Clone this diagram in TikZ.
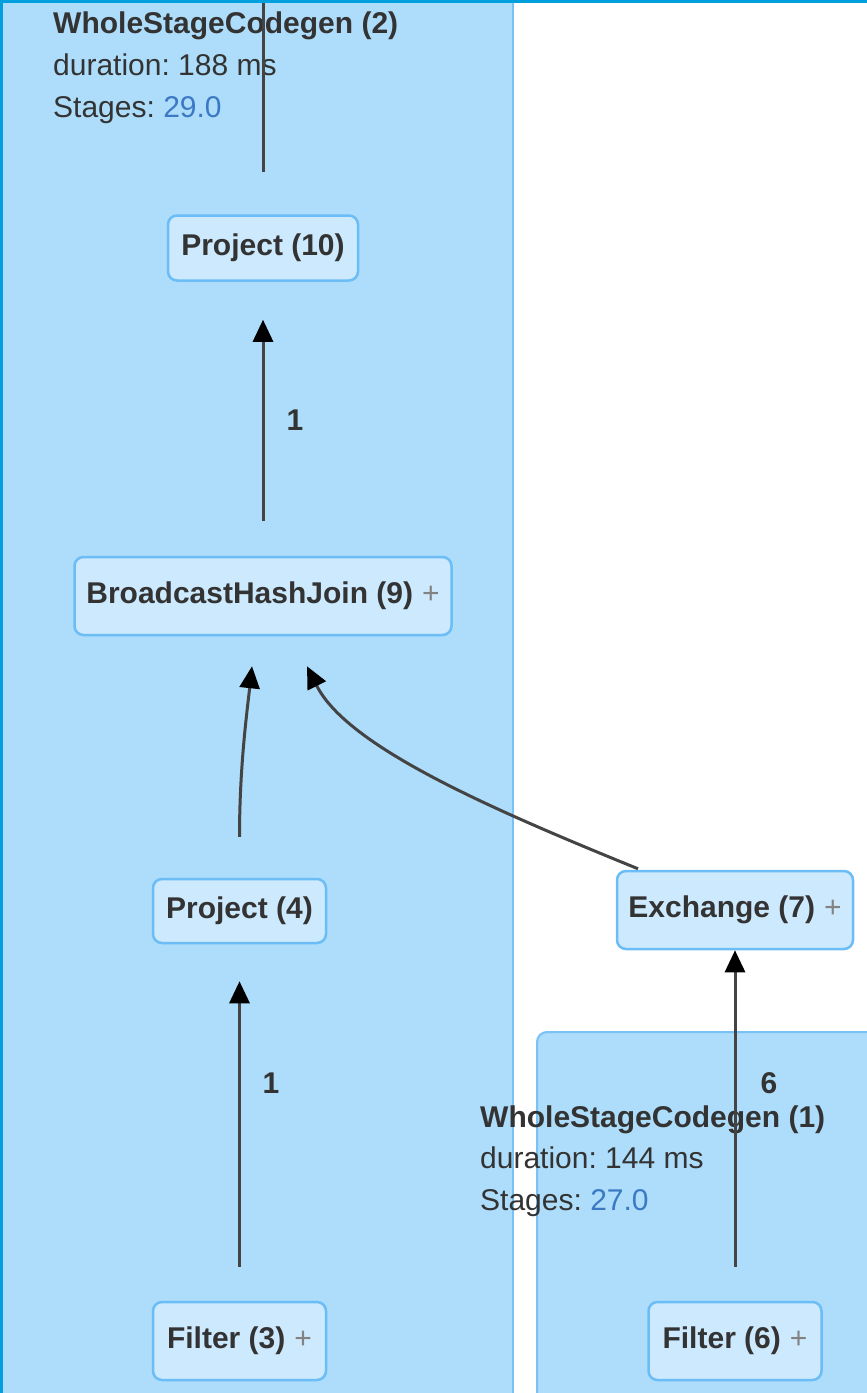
\documentclass[tikz,border=0pt]{standalone}
\usepackage{fontspec}
\setmainfont{Liberation Sans}
\usetikzlibrary{arrows.meta}

\definecolor{frameblue}{RGB}{0,160,222}
\definecolor{clusterfill}{RGB}{173,221,250}
\definecolor{clusteredge}{RGB}{120,194,245}
\definecolor{nodefill}{RGB}{204,233,253}
\definecolor{nodeedge}{RGB}{108,189,246}
\definecolor{ink}{RGB}{51,51,51}
\definecolor{plusgray}{RGB}{130,130,130}
\definecolor{stageblue}{RGB}{59,121,196}
\definecolor{edgegray}{RGB}{68,68,68}

% grey expand marker after an operator name
\newcommand\opplus{\hspace{9pt}{\color{plusgray}\mdseries+}}

\begin{document}
\frenchspacing
\begin{tikzpicture}[x=1pt,y=-1pt,
  opbox/.style={draw=nodeedge, line width=2.5pt, fill=nodefill, rounded corners=9pt,
    text=ink, font=\fontsize{30}{36}\selectfont\bfseries, inner sep=0pt},
  clusterbox/.style={draw=clusteredge, line width=2pt, fill=clusterfill},
  caption/.style={anchor=base west, inner sep=0pt, text=ink, font=\fontsize{30}{36}\selectfont},
  captiontitle/.style={caption, font=\fontsize{30}{36}\selectfont\bfseries},
  wire/.style={draw=edgegray, line width=3pt},
  edge/.style={wire, -{Triangle[length=22pt,width=20pt,color=black]}},
  count/.style={text=ink, font=\fontsize{30}{36}\selectfont\bfseries, inner sep=0pt}
]
\useasboundingbox (0,0) rectangle (867,1393);
\clip (0,0) rectangle (867,1393);

% codegen clusters
\path[clusterbox] (-10,-10) rectangle (513,1410);
\path[clusterbox, rounded corners=10pt] (537,1032) rectangle (890,1420);

% cluster captions
\node[captiontitle] (wsc2t) at (53,33) {WholeStageCodegen (2)};
\node[caption] (wsc2d) at (53,75) {duration: 188 ms};
\node[caption] (wsc2s) at (53,117) {Stages: \textcolor{stageblue}{29.0}};
\node[captiontitle] (wsc1t) at (480,1127) {WholeStageCodegen (1)};
\node[caption] (wsc1d) at (480,1168) {duration: 144 ms};
\node[caption] (wsc1s) at (480,1210) {Stages: \textcolor{stageblue}{27.0}};

% operators
\node[opbox, minimum width=190pt, minimum height=65pt] (p10) at (263,248) {Project (10)};
\node[opbox, minimum width=377pt, minimum height=78pt] (bhj) at (263,596) {BroadcastHashJoin (9)\opplus};
\node[opbox, minimum width=173pt, minimum height=64pt] (p4) at (239.5,911) {Project (4)};
\node[opbox, minimum width=236pt, minimum height=78pt] (ex) at (735,910) {Exchange (7)\opplus};
\node[opbox, minimum width=173pt, minimum height=78pt] (f3) at (239.5,1341) {Filter (3)\opplus};
\node[opbox, minimum width=173pt, minimum height=78pt] (f6) at (735,1341) {Filter (6)\opplus};

% data flow
\coordinate (exit) at (263,-10);
\draw[wire] ([yshift=42pt]p10.north) -- (exit);
\draw[edge] ([yshift=35pt]bhj.north) -- ([yshift=-38pt]p10.south);
\draw[edge] ([yshift=41pt]p4.north) .. controls +(0,-70) and +(-5,46) .. ([xshift=-11pt,yshift=-30pt]bhj.south);
\draw[edge] ([xshift=-97pt,yshift=1pt]ex.north) .. controls +(-150,-61) and +(40,80) .. ([xshift=44pt,yshift=-30pt]bhj.south);
\draw[edge] ([yshift=34pt]f3.north) -- ([yshift=-37pt]p4.south);
\draw[edge] ([yshift=34pt]f6.north) -- (ex.south);

% row counts
\node[count] (n10) at (295,420) {1};
\node[count] (n4) at (271,1083) {1};
\node[count] (n7) at (769,1083) {6};

% outer frame
\fill[frameblue] (0,0) rectangle (867,3);
\fill[frameblue] (0,0) rectangle (3,1393);
\end{tikzpicture}
\end{document}
